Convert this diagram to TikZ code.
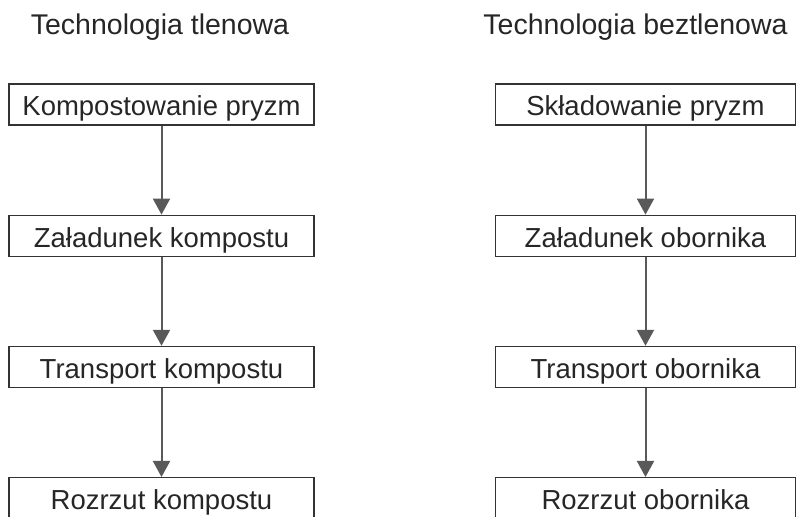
\documentclass[tikz,border=0pt]{standalone}
\usepackage{fontspec}
\setmainfont{Liberation Sans}
\usetikzlibrary{arrows.meta, positioning}

\begin{document}
\begin{tikzpicture}[
    x=1pt, y=1pt,
    node distance=89pt,
    stepbox/.style={rectangle, draw=black!80, line width=1.2pt, minimum width=305pt, minimum height=41pt, inner sep=0pt, text height=23pt, text depth=0pt, align=center, text=black!85, font=\fontsize{27.5}{32}\selectfont},
    title/.style={anchor=base, text=black!85, font=\fontsize{28.5}{32}\selectfont},
    line/.style={draw=black!65, line width=2pt, -{Triangle[length=16pt, width=17pt]}}
]
\clip (0,0) rectangle (796,517);
\useasboundingbox (0,0) rectangle (796,517);

% Titles
\node[title] (tleft) at (160,482) {Technologia tlenowa};
\node[title] (tright) at (635.5,482) {Technologia beztlenowa};

% Aerobic column
\node[stepbox] (kompost) at (161.5,412.5) {Kompostowanie pryzm};
\node[stepbox, below=of kompost] (zalkomp) {Załadunek kompostu};
\node[stepbox, below=of zalkomp] (trkomp) {Transport kompostu};
\node[stepbox, below=of trkomp] (rozkomp) {Rozrzut kompostu};

% Anaerobic column
\node[stepbox, minimum width=300pt] (sklad) at (645.5,412.5) {Składowanie pryzm};
\node[stepbox, minimum width=300pt, below=of sklad] (zalob) {Załadunek obornika};
\node[stepbox, minimum width=300pt, below=of zalob] (trob) {Transport obornika};
\node[stepbox, minimum width=300pt, below=of trob] (rozob) {Rozrzut obornika};

% Connections
\path [line] (kompost.south) -- (zalkomp.north);
\path [line] (zalkomp.south) -- (trkomp.north);
\path [line] (trkomp.south) -- (rozkomp.north);

\path [line] (sklad.south) -- (zalob.north);
\path [line] (zalob.south) -- (trob.north);
\path [line] (trob.south) -- (rozob.north);

\end{tikzpicture}
\end{document}
